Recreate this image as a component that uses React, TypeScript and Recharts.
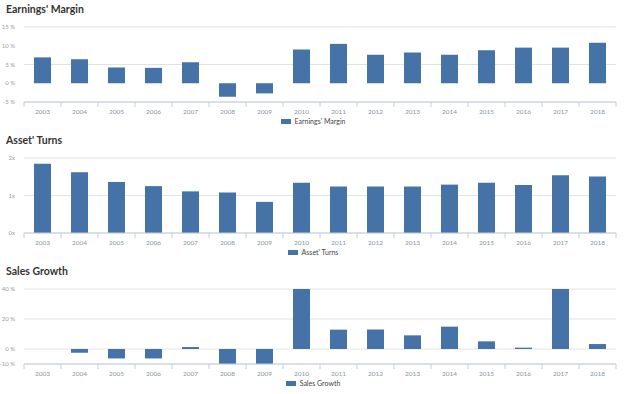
import React from "react";
import { BarChart, Bar, XAxis, YAxis, CartesianGrid, Legend } from "recharts";

const years = ["2003","2004","2005","2006","2007","2008","2009","2010","2011","2012","2013","2014","2015","2016","2017","2018"];
const earningsMargin = [6.9, 6.4, 4.2, 4.1, 5.6, -3.6, -2.7, 9.0, 10.5, 7.6, 8.2, 7.6, 8.8, 9.5, 9.5, 10.8];
const assetTurns = [1.85, 1.62, 1.36, 1.25, 1.11, 1.08, 0.83, 1.34, 1.24, 1.24, 1.24, 1.29, 1.34, 1.28, 1.54, 1.51];
const salesGrowth: (number | null)[] = [null, -2.5, -6.3, -6.3, 1.3, -10, -10, 40, 12.9, 13, 9.1, 14.9, 5.1, 0.9, 40, 3.3];

const marginTicks = [-5, 0, 5, 10, 15];
const turnsTicks = [0, 1, 2];
const growthTicks = [-10, 0, 20, 40];

const BAR = "#4572A7";
const AXIS = "#c4cddb";
const W = 624;
const H = 131;

function CatTick(props: any) {
  const { x, y, payload, index, visibleTicksCount } = props;
  const off = payload && typeof payload.offset === "number" ? payload.offset : 0;
  const isLast = index === (visibleTicksCount ?? 0) - 1;
  return (
    <g>
      <line x1={x - off} x2={x - off} y1={y - 5} y2={y} stroke={AXIS} />
      {isLast && <line x1={x + off} x2={x + off} y1={y - 5} y2={y} stroke={AXIS} />}
      <text x={x} y={y + 7} textAnchor="middle" fontSize={6.5} fill="#8a94a6" fontFamily="Lato, sans-serif">
        {payload.value}
      </text>
    </g>
  );
}

type PanelProps = {
  title: string;
  name: string;
  values: (number | null)[];
  domain: [number, number];
  ticks: number[];
  fmt: (v: number) => string;
};

function Panel({ title, name, values, domain, ticks, fmt }: PanelProps) {
  const data = years.map((y, i) => ({ year: y, v: values[i] }));
  return (
    <div style={{ position: "relative", width: W, height: H }}>
      <div
        style={{
          position: "absolute",
          left: 6,
          top: 3,
          fontFamily: "Lato, sans-serif",
          fontWeight: 700,
          fontSize: 10.5,
          color: "#333",
          zIndex: 2,
        }}
      >
        {title}
      </div>
      <BarChart width={W} height={H} data={data} margin={{ top: 27, right: 8, left: 0, bottom: 4 }}>
        <CartesianGrid vertical={false} stroke="#e2e2e2" />
        <XAxis
          dataKey="year"
          height={13}
          axisLine={{ stroke: AXIS }}
          tickLine={false}
          tickSize={5}
          tickMargin={0}
          interval={0}
          tick={<CatTick />}
        />
        <YAxis
          width={24}
          domain={domain}
          ticks={ticks}
          allowDataOverflow
          axisLine={false}
          tickLine={false}
          tickMargin={3}
          tickFormatter={fmt}
          tick={{ fontSize: 6, fill: "#999", fontFamily: "Lato, sans-serif" }}
        />
        <Legend
          verticalAlign="bottom"
          height={12}
          content={() => (
            <div
              style={{
                display: "flex",
                justifyContent: "center",
                alignItems: "center",
                height: 12,
                fontFamily: "Lato, sans-serif",
                fontSize: 7,
                color: "#444",
                paddingLeft: 10,
              }}
            >
              <span style={{ display: "inline-block", width: 10, height: 5, background: BAR, marginRight: 4 }} />
              <span>{name}</span>
            </div>
          )}
        />
        <Bar dataKey="v" name={name} fill={BAR} barSize={17} isAnimationActive={false} />
      </BarChart>
    </div>
  );
}

export default function App() {
  return (
    <div style={{ position: "absolute", left: 0, top: 0, width: W, height: 394, background: "#fff" }}>
      <Panel title="Earnings' Margin" name="Earnings' Margin" values={earningsMargin} domain={[-5, 15]} ticks={marginTicks} fmt={(v) => `${v}\u00a0%`} />
      <Panel title="Asset' Turns" name="Asset' Turns" values={assetTurns} domain={[0, 2]} ticks={turnsTicks} fmt={(v) => `${v}x`} />
      <Panel title="Sales Growth" name="Sales Growth" values={salesGrowth} domain={[-10, 40]} ticks={growthTicks} fmt={(v) => `${v}\u00a0%`} />
    </div>
  );
}
